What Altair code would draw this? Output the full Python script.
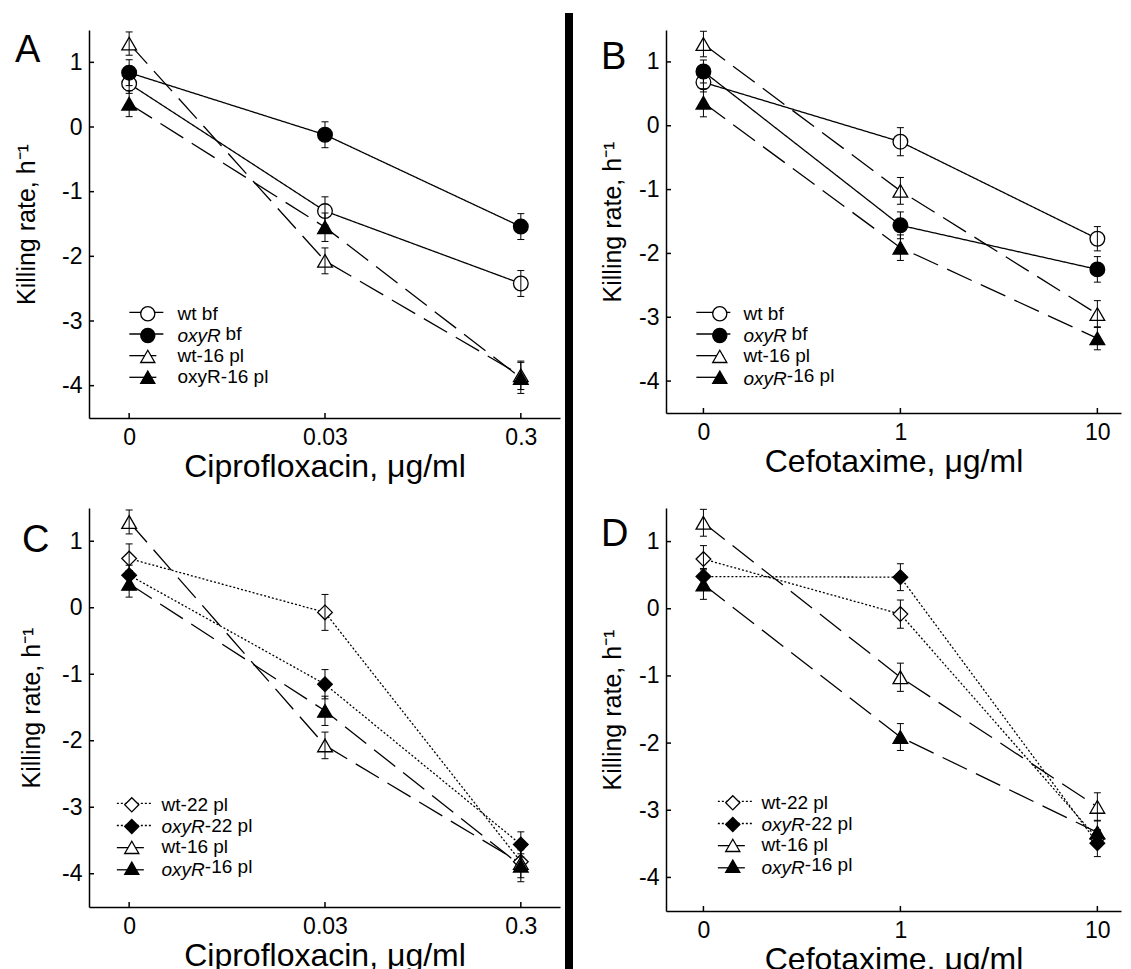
import json
import altair as alt
import pandas as pd

FONT = "Liberation Sans"
NB = "\u00a0"

# ---------------- data ----------------
cip_labels = ["0", "0.03", "0.3"]
cef_labels = ["0", "1", "10"]
x_index = [0, 1, 2]
y_ticks = [-4, -3, -2, -1, 0, 1]

bf_series = ["wt bf", "oxyR bf", "wt-16 pl", "oxyR-16 pl"]
pl_series = ["wt-22 pl", "oxyR-22 pl", "wt-16 pl", "oxyR-16 pl"]

# Panel A (ciprofloxacin)
a_wt_bf = [0.67, -1.30, -2.42]
a_wt_bf_err = [0.15, 0.22, 0.20]
a_oxyr_bf = [0.84, -0.12, -1.54]
a_oxyr_bf_err = [0.20, 0.20, 0.20]
a_wt16 = [1.29, -2.07, -3.84]
a_wt16_err = [0.18, 0.20, 0.22]
a_oxyr16 = [0.36, -1.55, -3.88]
a_oxyr16_err = [0.20, 0.22, 0.24]

# Panel B (cefotaxime)
b_wt_bf = [0.68, -0.25, -1.77]
b_wt_bf_err = [0.15, 0.22, 0.19]
b_oxyr_bf = [0.85, -1.56, -2.25]
b_oxyr_bf_err = [0.18, 0.21, 0.20]
b_wt16 = [1.28, -1.02, -2.95]
b_wt16_err = [0.20, 0.21, 0.21]
b_oxyr16 = [0.36, -1.91, -3.33]
b_oxyr16_err = [0.22, 0.20, 0.18]

# Panel C (ciprofloxacin)
c_wt22 = [0.74, -0.07, -3.82]
c_wt22_err = [0.22, 0.27, 0.12]
c_oxyr22 = [0.49, -1.15, -3.56]
c_oxyr22_err = [0.15, 0.22, 0.19]

# Panel D (cefotaxime)
d_wt22 = [0.74, -0.08, -3.42]
d_wt22_err = [0.20, 0.21, 0.12]
d_oxyr22 = [0.48, 0.47, -3.49]
d_oxyr22_err = [0.12, 0.20, 0.20]

# styles
bf_dash = [[1, 0], [1, 0], [27, 10], [27, 10]]
pl_dash = [[2, 2], [2, 2], [27, 10], [27, 10]]
bf_shapes = ["circle", "circle", "triangle-up", "triangle-up"]
pl_shapes = ["diamond", "diamond", "triangle-up", "triangle-up"]
fills = ["white", "black", "white", "black"]
strokes = ["black", "black", "black", "black"]

# legend label pieces: upright full / italic prefix / upright after space / upright directly after
a_lab = (["wt bf", NB, "wt-16 pl", "oxyR-16 pl"], [NB, "oxyR", NB, NB],
         [NB, "bf", NB, NB], [NB, NB, NB, NB])
b_lab = (["wt bf", NB, "wt-16 pl", NB], [NB, "oxyR", NB, "oxyR"],
         [NB, "bf", NB, NB], [NB, NB, NB, "-16 pl"])
cd_lab = (["wt-22 pl", NB, "wt-16 pl", NB], [NB, "oxyR", NB, "oxyR"],
          [NB, NB, NB, NB], [NB, "-22 pl", NB, "-16 pl"])

YTITLE = "Killing rate, h\u207b\u00b9"
LEG_FS = 19
ROW_PITCH = 22.3
LABEL_H = 21.5
SYM = 200
PT_SIZE = 215
SW = 1.3
LW = 1.3
ITAL_W = 2.278 * LEG_FS   # width of italic "oxyR"
SPACE_W = 0.278 * LEG_FS


def lab_expr(domain, texts):
    return "%s[indexof(%s, datum.label)]" % (
        json.dumps(texts, ensure_ascii=False), json.dumps(domain, ensure_ascii=False))


def text_legend(dom, texts, lx, ly, offset, italic=False):
    kw = dict(labelFontStyle="italic") if italic else {}
    return alt.Legend(title=None, orient="none", legendX=lx, legendY=ly,
                      direction="vertical", symbolType="circle", symbolSize=SYM,
                      symbolStrokeWidth=SW, symbolOpacity=0, symbolFillColor="transparent",
                      symbolStrokeColor="transparent", labelFont=FONT,
                      labelFontSize=LEG_FS, labelColor="black",
                      labelExpr=lab_expr(dom, texts), labelOffset=offset,
                      rowPadding=ROW_PITCH - LABEL_H, padding=0, zindex=3, **kw)


def make_panel(series, ys, errs, xlabels, xtitle, dashes, shapes,
               width, height, xdomain, letter, letter_dx, letter_dy, ytitle_x,
               line_c, line_len, marker_c, label_x, row1, labs, separator=None):
    doms = {k: [k + "|" + s for s in series] for k in ("d", "i", "f", "g")}
    rows = []
    for s, yv, ev in zip(series, ys, errs):
        for xi, y, e in zip(x_index, yv, ev):
            r = {"series": s, "xi": xi, "y": y, "lo": y - e, "hi": y + e}
            for k in doms:
                r["k" + k] = k + "|" + s
            rows.append(r)
    df = pd.DataFrame(rows)

    xs = alt.Scale(domain=xdomain, nice=False, zero=False)
    yscale = alt.Scale(domain=[-4.5, 1.5], nice=False, zero=False)
    xaxis = alt.Axis(values=x_index, labelExpr="%s[datum.value]" % json.dumps(xlabels),
                     title=xtitle, ticks=False, grid=False, domainColor="black",
                     domainWidth=1.5, labelFont=FONT, labelFontSize=23, labelColor="black",
                     labelPadding=8, labelFlush=False, labelOverlap=False,
                     titleFont=FONT, titleFontSize=32, titleFontWeight="normal",
                     titleColor="black", titlePadding=2)
    yaxis = alt.Axis(values=y_ticks,
                     labelExpr="datum.value < 0 ? '-' + abs(datum.value) : '' + datum.value",
                     title=YTITLE, ticks=False, grid=False, domainColor="black",
                     domainWidth=1.5, labelFont=FONT, labelFontSize=23, labelColor="black",
                     labelPadding=7, labelOverlap=False,
                     titleFont=FONT, titleFontSize=25, titleFontWeight="normal",
                     titleColor="black", titleAngle=270, titleAlign="center",
                     titleBaseline="middle", titleX=ytitle_x, titleY=height / 2)

    x_enc = alt.X("xi:Q", scale=xs, axis=xaxis)
    y_enc = alt.Y("y:Q", scale=yscale, axis=yaxis)

    # line-sample legend (labels tiny & hidden so rows stay compact)
    c1 = (line_len + LW) / 2
    l1 = alt.Legend(title=None, orient="none", legendX=line_c - c1,
                    legendY=row1 - c1, direction="vertical", symbolType="stroke",
                    symbolSize=line_len * line_len, symbolStrokeColor="black",
                    symbolStrokeWidth=LW, symbolOpacity=1, labelFont=FONT,
                    labelFontSize=1, labelOpacity=0,
                    rowPadding=max(0.0, ROW_PITCH - (c1 + 4)), padding=0, zindex=1)
    # marker legend (shape + fill + stroke)
    colw = (SYM ** 0.5) + SW
    x2 = marker_c - colw / 2
    y2 = row1 - colw / 2
    off = label_x - x2 - colw
    l2 = alt.Legend(title=None, orient="none", legendX=x2, legendY=y2,
                    direction="vertical", symbolSize=SYM,
                    symbolStrokeWidth=SW, symbolOpacity=1, labelFont=FONT,
                    labelFontSize=LEG_FS, labelColor="black", labelExpr=lab_expr(series, labs[0]),
                    labelOffset=off, rowPadding=ROW_PITCH - LABEL_H, padding=0, zindex=3)
    # italic prefix
    l3 = text_legend(doms["i"], labs[1], x2, y2, off, italic=True)
    # upright suffix after a space (size legend: symbols sized by the size scale)
    colw_s = (PT_SIZE ** 0.5) + SW
    xs4 = marker_c - colw_s / 2
    l4 = text_legend(doms["f"], labs[2], xs4, row1 - colw_s / 2,
                     label_x - xs4 - colw_s + ITAL_W + SPACE_W)
    # upright suffix directly after (strokeWidth legend)
    colw_w = (SYM ** 0.5) + LW
    xs5 = marker_c - colw_w / 2
    l5 = text_legend(doms["g"], labs[3], xs5, row1 - colw_w / 2,
                     label_x - xs5 - colw_w + ITAL_W)

    base = alt.Chart(df)
    lines = base.mark_line(color="black").encode(
        x=x_enc, y=y_enc,
        strokeDash=alt.StrokeDash("kd:N", scale=alt.Scale(domain=doms["d"], range=dashes), legend=l1),
        strokeWidth=alt.StrokeWidth("kg:N", scale=alt.Scale(domain=doms["g"], range=[LW] * 4), legend=l5),
    )
    points = base.mark_point(filled=False, strokeWidth=SW, opacity=1).encode(
        x=x_enc, y=y_enc,
        shape=alt.Shape("series:N", scale=alt.Scale(domain=series, range=shapes), legend=l2),
        fill=alt.Fill("series:N", scale=alt.Scale(domain=series, range=fills), legend=l2),
        stroke=alt.Stroke("series:N", scale=alt.Scale(domain=series, range=strokes), legend=l2),
        opacity=alt.Opacity("ki:N", scale=alt.Scale(domain=doms["i"], range=[1] * 4), legend=l3),
        size=alt.Size("kf:N", scale=alt.Scale(domain=doms["f"], range=[PT_SIZE] * 4), legend=l4),
    )
    err = base.mark_rule(color="black", strokeWidth=1).encode(
        x=x_enc, y=alt.Y("lo:Q", scale=yscale, axis=yaxis), y2="hi:Q")
    cap_lo = base.mark_rule(color="black", strokeWidth=1, xOffset=-3.5, x2Offset=3.5).encode(
        x=x_enc, x2="xi:Q", y=alt.Y("lo:Q", scale=yscale, axis=yaxis))
    cap_hi = base.mark_rule(color="black", strokeWidth=1, xOffset=-3.5, x2Offset=3.5).encode(
        x=x_enc, x2="xi:Q", y=alt.Y("hi:Q", scale=yscale, axis=yaxis))
    xt = alt.Chart(pd.DataFrame({"xi": x_index})).mark_rule(color="black", strokeWidth=1.5).encode(
        x=x_enc, y=alt.value(height), y2=alt.value(height - 5))
    yt = alt.Chart(pd.DataFrame({"y": y_ticks})).mark_rule(color="black", strokeWidth=1.5).encode(
        y=y_enc, x=alt.value(0), x2=alt.value(5))
    let = alt.Chart(pd.DataFrame({"t": [letter]})).mark_text(
        align="left", baseline="alphabetic", fontSize=38, font=FONT, color="black").encode(
        x=alt.value(letter_dx), y=alt.value(letter_dy), text="t:N")

    layers = [lines, points, err, cap_lo, cap_hi, xt, yt, let]
    if separator is not None:
        sx, sy1, sy2 = separator
        layers.append(alt.Chart(pd.DataFrame({"s": [0]})).mark_rule(
            color="black", strokeWidth=8).encode(
            x=alt.value(sx), y=alt.value(sy1), y2=alt.value(sy2)))
    return alt.layer(*layers).properties(width=width, height=height)


CIP = "Ciprofloxacin, \u03bcg/ml"
CEF = "Cefotaxime, \u03bcg/ml"
LEFT_DOM = [-0.205, 2.2]
RIGHT_DOM = [-0.19, 2.12]

pA = make_panel(bf_series, [a_wt_bf, a_oxyr_bf, a_wt16, a_oxyr16],
                [a_wt_bf_err, a_oxyr_bf_err, a_wt16_err, a_oxyr16_err],
                cip_labels, CIP, bf_dash, bf_shapes, 471, 388, LEFT_DOM,
                "A", -74, 32, -63, 57, 34, 57, 85, 282, a_lab)
pB = make_panel(bf_series, [b_wt_bf, b_oxyr_bf, b_wt16, b_oxyr16],
                [b_wt_bf_err, b_oxyr_bf_err, b_wt16_err, b_oxyr16_err],
                cef_labels, CEF, bf_dash, bf_shapes, 455, 383, RIGHT_DOM,
                "B", -65, 39, -54, 47, 34, 52, 74, 282, b_lab, separator=(-97, -17, 945))
pC = make_panel(pl_series, [c_wt22, c_oxyr22, a_wt16, a_oxyr16],
                [c_wt22_err, c_oxyr22_err, a_wt16_err, a_oxyr16_err],
                cip_labels, CIP, pl_dash, pl_shapes, 471, 399, LEFT_DOM,
                "C", -67, 44, -58, 45, 35, 41, 69, 295, cd_lab)
pD = make_panel(pl_series, [d_wt22, d_oxyr22, b_wt16, b_oxyr16],
                [d_wt22_err, d_oxyr22_err, b_wt16_err, b_oxyr16_err],
                cef_labels, CEF, pl_dash, pl_shapes, 455, 403, RIGHT_DOM,
                "D", -65, 38, -54, 69, 35, 65, 92, 293, cd_lab)

chans = ["strokeDash", "strokeWidth", "shape", "fill", "stroke", "opacity", "size"]
res_ch = dict(x="independent", y="independent", **{c: "independent" for c in chans})
leg_ch = {c: "independent" for c in chans}

chart = alt.concat(pA, pB, pC, pD, columns=2, spacing={"row": 90, "column": 106},
                   bounds="flush").resolve_scale(**res_ch).resolve_legend(**leg_ch).properties(
    padding={"left": 5, "top": 0, "right": 0, "bottom": 0},
    background="white",
).configure(font=FONT).configure_view(stroke="transparent")

chart.save("out.html", embed_options={"renderer": "svg", "actions": False})
